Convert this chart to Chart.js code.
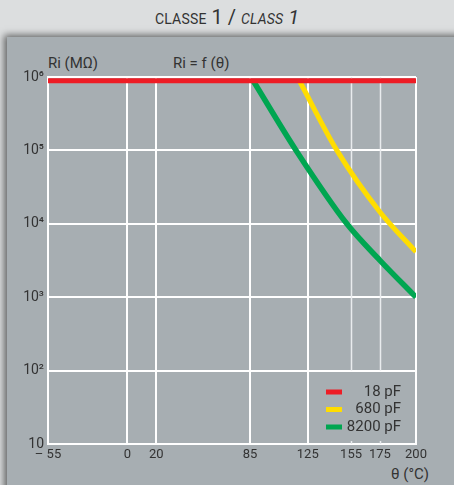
<!DOCTYPE html>
<html>
<head>
<meta charset="utf-8">
<script src="https://cdn.jsdelivr.net/npm/chart.js@4"></script>
<style>
  html, body { margin:0; padding:0; width:454px; height:485px; overflow:hidden; background:#dcdedf; }
  #panel { position:absolute; left:7px; top:37px; width:460px; height:460px; background:#a7aeb2;
           box-shadow: -3px -2px 7px rgba(0,0,0,0.55); }
  #wrap { position:absolute; left:0; top:0; width:454px; height:485px; }
  .t { position:absolute; color:#333; font-family:"Roboto",sans-serif; white-space:nowrap; }
  #title { left:0; width:454px; top:5px; text-align:center; font-size:20px; }
  .sc { font-size:14px; letter-spacing:0.2px; }
</style>
</head>
<body>
<div id="panel"></div>
<div class="t" id="title"><span class="sc">CLASSE</span> 1 / <i><span class="sc">CLASS</span> 1</i></div>
<div class="t" style="left:48px; top:54px; font-size:15px;">Ri (MΩ)</div>
<div class="t" style="left:173px; top:54px; font-size:15px;">Ri = f (θ)</div>
<div class="t" style="left:391px; top:465px; font-size:15px;">θ (°C)</div>
<div id="wrap"><canvas id="c" width="454" height="485"></canvas></div>
<script>
// ---- data ----
const xTickValues = [-55, 0, 20, 85, 125, 155, 175, 200];
const xTickLabels = ['– 55', '0', '20', '85', '125', '155', '175', '200'];
const yTickValues = [10, 100, 1000, 10000, 100000, 1000000];
const yTickLabels = ['10', '10²', '10³', '10⁴', '10⁵', '10⁶'];

const seriesNames = ['18 pF', '680 pF', '8200 pF'];
const temp18 = [-55, 200];
const ri18 = [890000, 890000];
const temp680 = [119.2, 145.2, 175, 200];
const ri680 = [890000, 100000, 14500, 4140];
const temp8200 = [87.2, 116.9, 152.1, 175, 200];
const ri8200 = [890000, 100000, 10000, 3180, 1000];
const seriesColors = ['#ee1c25', '#ffdd00', '#00a651'];

const pts = (xs, ys) => xs.map((x, i) => ({x: x, y: ys[i]}));

const FONT = '"Roboto",sans-serif';

const extras = {
  id: 'extras',
  beforeDatasetsDraw(chart) {
    const {ctx, scales: {x, y}} = chart;
    ctx.save();
    ctx.strokeStyle = '#e9ecee';
    ctx.lineWidth = 1.5;
    [155, 175].forEach(v => {
      const px = Math.round(x.getPixelForValue(v)) + 0.5;
      ctx.beginPath();
      ctx.moveTo(px, y.getPixelForValue(1000000));
      ctx.lineTo(px, y.getPixelForValue(100));
      ctx.moveTo(px, y.getPixelForValue(10));
      ctx.lineTo(px, y.getPixelForValue(10) - 3);
      ctx.stroke();
    });
    ctx.restore();
  },
  afterDatasetsDraw(chart) {
    const {ctx, chartArea} = chart;
    ctx.save();
    ctx.font = '15px ' + FONT;
    ctx.textAlign = 'right';
    ctx.textBaseline = 'middle';
    chart.data.datasets.forEach((ds, i) => {
      const cy = chartArea.bottom - 52 + i * 17.5;
      ctx.fillStyle = ds.borderColor;
      ctx.fillRect(chartArea.right - 90, cy - 2.5, 16, 5);
      ctx.fillStyle = '#333';
      ctx.fillText(ds.label, chartArea.right - 15, cy);
    });
    ctx.restore();
  }
};

new Chart(document.getElementById('c'), {
  type: 'line',
  data: {
    datasets: [
      {label: seriesNames[0], data: pts(temp18, ri18), borderColor: seriesColors[0], borderWidth: 5},
      {label: seriesNames[1], data: pts(temp680, ri680), borderColor: seriesColors[1], borderWidth: 5},
      {label: seriesNames[2], data: pts(temp8200, ri8200), borderColor: seriesColors[2], borderWidth: 5.5}
    ]
  },
  options: {
    responsive: false,
    animation: false,
    devicePixelRatio: 1,
    elements: {
      point: {radius: 0},
      line: {cubicInterpolationMode: 'monotone', fill: false, borderCapStyle: 'butt'}
    },
    layout: {padding: {top: 77, right: 38, left: 0, bottom: 0}},
    plugins: {legend: {display: false}, tooltip: {enabled: false}},
    scales: {
      x: {
        type: 'linear', min: -55, max: 200,
        afterBuildTicks: s => { s.ticks = xTickValues.map(v => ({value: v})); },
        afterFit: s => { s.height = 41; },
        ticks: {
          autoSkip: false, maxRotation: 0, padding: 3, color: '#333',
          font: {family: FONT, size: 13},
          callback: (v) => xTickLabels[xTickValues.indexOf(v)]
        },
        grid: {
          drawTicks: false, lineWidth: 2,
          color: c => (c.tick && (c.tick.value === 155 || c.tick.value === 175)) ? 'rgba(0,0,0,0)' : '#ffffff'
        },
        border: {display: true, color: '#ffffff', width: 2}
      },
      y: {
        type: 'logarithmic', min: 10, max: 1000000,
        afterBuildTicks: s => { s.ticks = yTickValues.map(v => ({value: v})); },
        afterFit: s => { s.width = 48; },
        ticks: {
          autoSkip: false, padding: 4, color: '#333',
          font: {family: FONT, size: 14},
          callback: (v) => yTickLabels[yTickValues.indexOf(v)]
        },
        grid: {drawTicks: false, lineWidth: 2, color: '#ffffff'},
        border: {display: true, color: '#ffffff', width: 2}
      }
    }
  },
  plugins: [extras]
});
</script>
</body>
</html>
